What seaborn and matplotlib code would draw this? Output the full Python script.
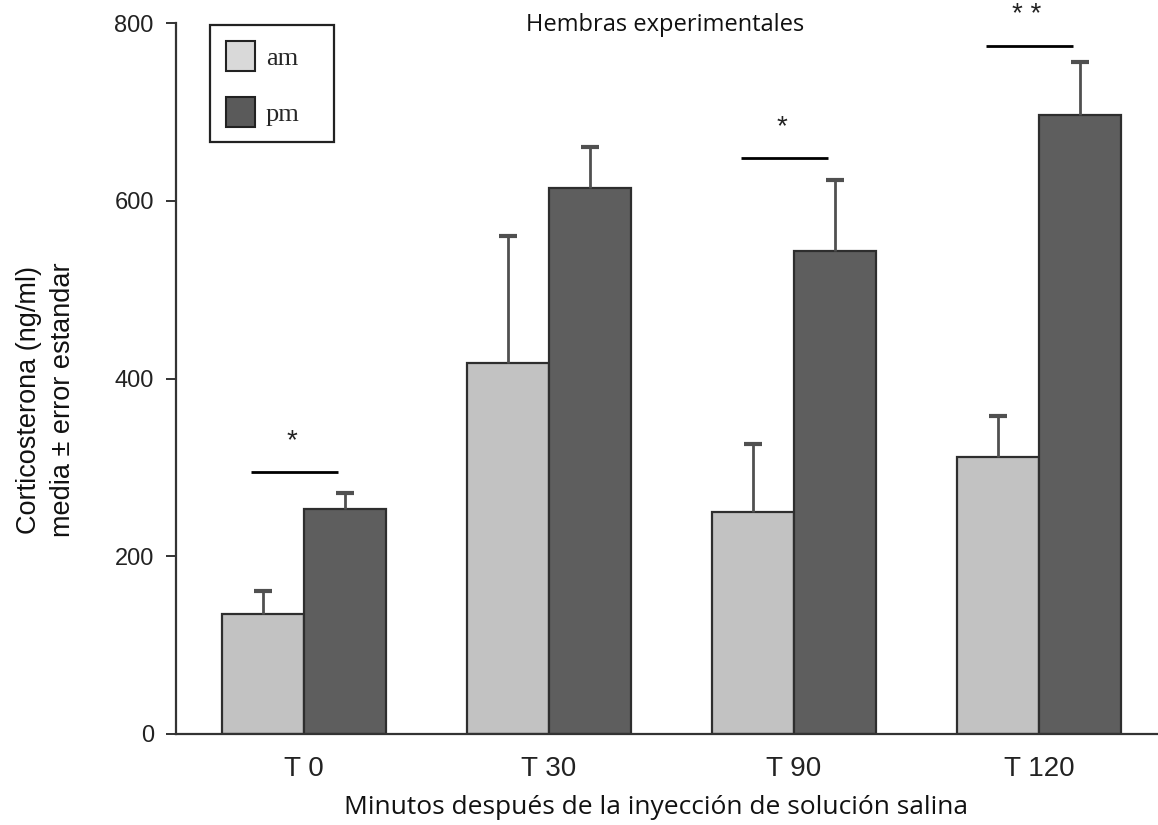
import matplotlib
matplotlib.use("Agg")
import matplotlib.pyplot as plt
from matplotlib.patches import Patch
import seaborn as sns
import pandas as pd
import numpy as np

# ---- data ----
tiempos = ["T 0", "T 30", "T 90", "T 120"]
periodos = ["am", "pm"]
media_am = [135, 418, 250, 312]
media_pm = [253, 614, 543, 697]
error_am = [26, 142, 76, 46]
error_pm = [18, 47, 80, 59]
sig_tiempos = ["T 0", "T 90", "T 120"]
sig_y = [295, 648, 774]
sig_labels = ["*", "*", "* *"]

df = pd.DataFrame({
    "tiempo": tiempos * 2,
    "periodo": ["am"] * 4 + ["pm"] * 4,
    "valor": media_am + media_pm,
})
errores = {"am": error_am, "pm": error_pm}

sns.set_style("white")
plt.rcParams["font.family"] = ["Liberation Sans", "DejaVu Sans"]

fig = plt.figure(figsize=(11.58, 8.25), dpi=100)
ax = fig.add_axes([176 / 1158, 1 - 734 / 825, 1 - 176 / 1158, (734 - 23) / 825])

sns.barplot(data=df, x="tiempo", y="valor", hue="periodo", order=tiempos,
            hue_order=periodos, palette={"am": "#c2c2c2", "pm": "#5e5e5e"},
            width=0.67, gap=0, edgecolor="#2e2e2e", linewidth=1.6,
            errorbar=None, ax=ax, saturation=1, legend=False)

for cont, p in zip(ax.containers, periodos):
    xs = [r.get_x() + r.get_width() / 2 for r in cont.patches]
    hs = [r.get_height() for r in cont.patches]
    eb = ax.errorbar(xs, hs, yerr=[np.zeros(len(hs)), errores[p]], fmt="none",
                     ecolor="#505050", elinewidth=2.0, capsize=6.8, capthick=3.0,
                     zorder=3)
    # one-sided error bars: hide the lower caps
    eb[1][0].set_visible(False)

ax.set_ylim(0, 800)
ax.set_xlim(-0.522, 3.486)
ax.set_yticks([0, 200, 400, 600, 800])
ax.set_xlabel("")
ax.set_ylabel("")
for s in ["top", "right"]:
    ax.spines[s].set_visible(False)
for s in ["left", "bottom"]:
    ax.spines[s].set_color("#333333")
    ax.spines[s].set_linewidth(1.6)
ax.tick_params(axis="y", direction="out", length=7, width=1.4, color="#333333",
               labelsize=17, pad=9, left=True, labelcolor="#222222")
ax.tick_params(axis="x", length=0, labelsize=20, pad=16, labelcolor="#222222")

# significance marks
pos = {t: i for i, t in enumerate(tiempos)}
for t, yv, lab in zip(sig_tiempos, sig_y, sig_labels):
    c = pos[t]
    ax.plot([c - 0.215, c + 0.14], [yv, yv], color="black", lw=2.0,
            solid_capstyle="butt", clip_on=False)
    ax.text(c - 0.05, yv + 35, lab, ha="center", va="center", fontsize=20,
            color="#222222", clip_on=False)

# legend
leg_cols = {"am": "#d9d9d9", "pm": "#5a5a5a"}
hnd = [Patch(facecolor=leg_cols[l], edgecolor="#222222", linewidth=1.5) for l in periodos]
leg = ax.legend(hnd, periodos, loc="upper left",
                bbox_to_anchor=(0.035, 0.0, 0.1263, 0.997), mode="expand",
                borderaxespad=0, frameon=True, fancybox=False, edgecolor="#222222",
                framealpha=1, handlelength=1.1, handleheight=1.35, handletextpad=0.4,
                labelspacing=1.0, borderpad=0.6,
                prop={"family": ["Liberation Serif"], "size": 19})
leg.get_frame().set_linewidth(1.6)

fig.text(665 / 1158, 1 - 25 / 825, "Hembras experimentales", ha="center",
         va="center", fontsize=17, color="#111111", family=["Open Sans", "DejaVu Sans"])
fig.text(656 / 1158, 1 - 808 / 825,
         "Minutos después de la inyección de solución salina", ha="center",
         va="center", fontsize=19, color="#111111", family=["Open Sans", "DejaVu Sans"])
fig.text(46 / 1158, 1 - 400 / 825, "Corticosterona (ng/ml)\nmedia ± error estandar",
         rotation=90, ha="center", va="center", fontsize=19.5, linespacing=1.4,
         color="#111111", multialignment="center")

fig.savefig("out.png", dpi=100)
